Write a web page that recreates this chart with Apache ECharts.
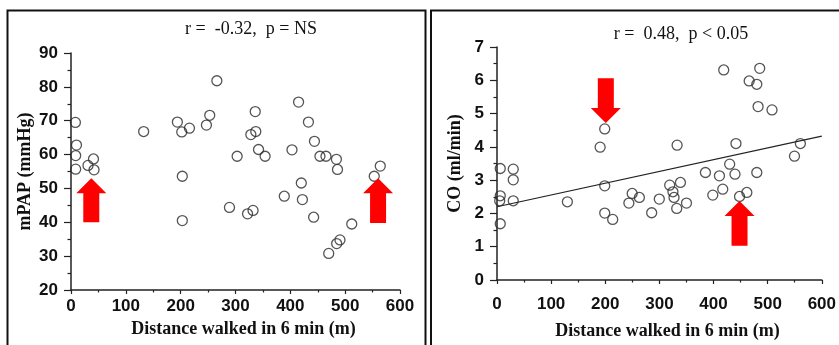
<!DOCTYPE html>
<html>
<head>
<meta charset="utf-8">
<script src="https://cdn.jsdelivr.net/npm/echarts@6/dist/echarts.min.js"></script>
<style>
html,body{margin:0;padding:0;background:#fff;}
#c{width:839px;height:345px;}
</style>
</head>
<body>
<div id="c"></div>
<script>
// ---- data ----
const titleA = 'r =  -0.32,  p = NS';
const titleB = 'r =  0.48,  p < 0.05';
const xName = 'Distance walked in 6 min (m)';
const yNameA = 'mPAP (mmHg)';
const yNameB = 'CO (ml/min)';
const xTicks = [0, 100, 200, 300, 400, 500, 600];
const mpapTicks = [20, 30, 40, 50, 60, 70, 80, 90];
const coTicks = [0, 1, 2, 3, 4, 5, 6, 7];

const distA = [8,10,8.5,8.5,31,41,42,132.5,194,202,216,203,203,247,253,266,289,303,322,332,328,337,336,342,354,389,403,415,420,422,433,442.5,444,454,465,470,484,486,484.5,490.5,512,553,564];
const mpap  = [69.5,62.8,59.7,55.7,56.8,58.7,55.5,66.8,69.6,66.7,67.8,53.6,40.5,68.7,71.6,81.8,44.4,59.5,42.5,43.5,65.9,66.8,72.7,61.5,59.5,47.7,61.4,75.5,51.6,46.7,69.6,41.5,63.9,59.5,59.5,30.8,58.6,55.6,33.7,34.8,39.5,53.6,56.6];

const distB = [6,6,5,6,30,30,30,130,190.5,199,199,199,213.7,243.6,249.7,263,285.7,299.8,319,325,327,332,332.7,338.8,350,385,398.6,410.9,417,418.8,429.8,439.6,441.4,448,461.5,465.8,479.9,479.9,482.3,485.3,508,549.5,560.4];
const co    = [3.35,2.53,2.38,1.69,3.33,3.01,2.38,2.35,3.99,4.54,2.83,2.01,1.82,2.31,2.60,2.48,2.02,2.43,2.85,2.65,2.48,2.15,4.05,2.93,2.31,3.23,2.55,3.13,2.73,6.31,3.48,3.18,4.10,2.51,2.63,5.98,5.88,3.23,5.21,6.36,5.11,3.72,4.10];

// regression line endpoints (x, CO)
const fitX = [0, 600];
const fitY = [2.2, 4.32];

// arrows: x, tip value, tail value
const arrowsA = [[37, 53, 40], [560, 53, 39.8]];
const arrowsB = [[201, 4.72, 6.06], [448, 2.37, 1.03]];

// ---- chart ----
const chart = echarts.init(document.getElementById('c'), null, {renderer: 'canvas'});
const sansLbl = {color: '#111', fontFamily: 'Liberation Sans', fontWeight: 'bold', fontSize: 17};
const serifName = {color: '#111', fontFamily: 'Liberation Serif', fontWeight: 'bold', fontSize: 18};

function xAxis(gi, gap, labelMargin) {
  return {
    type: 'value', gridIndex: gi,
    min: xTicks[0], max: xTicks[xTicks.length - 1], interval: xTicks[1] - xTicks[0],
    name: xName, nameLocation: 'middle', nameGap: gap,
    nameTextStyle: Object.assign({padding: [0, 0, 0, 16]}, serifName),
    axisLine: {show: true, onZero: false, lineStyle: {color: '#222', width: 1.5}},
    axisTick: {show: true, length: 4, lineStyle: {color: '#222', width: 1.2}},
    minorTick: {show: true, splitNumber: 2, length: 2.5, lineStyle: {color: '#222', width: 1.2}},
    axisLabel: Object.assign({margin: labelMargin}, sansLbl),
    splitLine: {show: false}
  };
}
function yAxis(gi, ticks, name, gap) {
  return {
    type: 'value', gridIndex: gi,
    min: ticks[0], max: ticks[ticks.length - 1], interval: ticks[1] - ticks[0],
    name: name, nameLocation: 'middle', nameGap: gap, nameRotate: 90,
    nameTextStyle: serifName,
    axisLine: {show: true, onZero: false, lineStyle: {color: '#222', width: 1.5}},
    axisTick: {show: true, length: 7, lineStyle: {color: '#222', width: 1.2}},
    minorTick: {show: true, splitNumber: 2, length: 3.5, lineStyle: {color: '#222', width: 1.2}},
    axisLabel: Object.assign({margin: 13}, sansLbl),
    splitLine: {show: false}
  };
}

function arrowSeries(xi, data) {
  return {
    type: 'custom', xAxisIndex: xi, yAxisIndex: xi, silent: true, z: 5,
    data: data,
    renderItem: function (params, api) {
      const tip = api.coord([api.value(0), api.value(1)]);
      const tail = api.coord([api.value(0), api.value(2)]);
      const dir = tail[1] > tip[1] ? 1 : -1; // +1: arrow points up
      const hw = 15, sw = 8, hh = 15;
      const x = tip[0], ty = tip[1], by = tip[1] + dir * hh;
      return {
        type: 'polygon',
        shape: {points: [
          [x, ty], [x + hw, by], [x + sw, by], [x + sw, tail[1]],
          [x - sw, tail[1]], [x - sw, by], [x - hw, by]
        ]},
        style: {fill: '#ff0000'}
      };
    }
  };
}

const scatterStyle = {
  type: 'scatter', symbol: 'circle', symbolSize: 10,
  itemStyle: {color: 'rgba(0,0,0,0)', borderColor: '#2a2a2a', borderWidth: 1.3},
  z: 3, silent: true
};

chart.setOption({
  animation: false,
  backgroundColor: '#fff',
  title: [
    {text: titleA, left: 246, top: 15, textAlign: 'center',
     textStyle: {fontFamily: 'Liberation Serif', fontWeight: 'normal', fontSize: 18, color: '#111'}},
    {text: titleB, left: 676, top: 20, textAlign: 'center',
     textStyle: {fontFamily: 'Liberation Serif', fontWeight: 'normal', fontSize: 18, color: '#111'}}
  ],
  graphic: [
    {type: 'rect', shape: {x: 7.5, y: 10.5, width: 418, height: 350},
     style: {fill: 'none', stroke: '#111', lineWidth: 2}, silent: true},
    {type: 'rect', shape: {x: 431, y: 10.5, width: 420, height: 350},
     style: {fill: 'none', stroke: '#111', lineWidth: 2}, silent: true}
  ],
  grid: [
    {left: 71, top: 53, width: 329, height: 237},
    {left: 497, top: 47, width: 328, height: 235}
  ],
  xAxis: [xAxis(0, 30, 8), xAxis(1, 42, 16)],
  yAxis: [yAxis(0, mpapTicks, yNameA, 37), yAxis(1, coTicks, yNameB, 33)],
  series: [
    Object.assign({xAxisIndex: 0, yAxisIndex: 0, data: distA.map((d, i) => [d, mpap[i]])}, scatterStyle),
    Object.assign({xAxisIndex: 1, yAxisIndex: 1, data: distB.map((d, i) => [d, co[i]])}, scatterStyle),
    {type: 'line', xAxisIndex: 1, yAxisIndex: 1, silent: true, symbol: 'none',
     lineStyle: {color: '#222', width: 1.2},
     data: fitX.map((x, i) => [x, fitY[i]])},
    arrowSeries(0, arrowsA),
    arrowSeries(1, arrowsB)
  ]
});
</script>
</body>
</html>
